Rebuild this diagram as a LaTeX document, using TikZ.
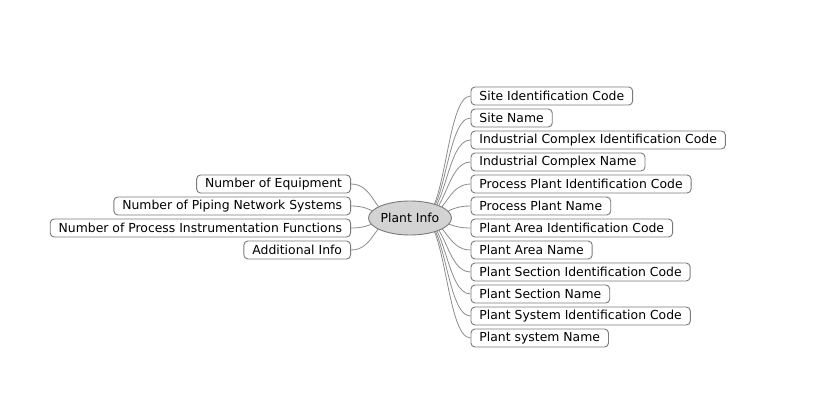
\documentclass[tikz,border=0pt]{standalone}
\usepackage{fontspec}
\setmainfont{DejaVu Sans}
\usetikzlibrary{shapes.geometric,backgrounds}
\definecolor{linegray}{HTML}{8C8C8C}
\definecolor{boxgray}{HTML}{7A7A7A}
\definecolor{rootfill}{HTML}{D3D3D3}
\tikzset{
  leaf/.style={draw=boxgray, line width=0.9pt, rounded corners=4pt, fill=white,
    minimum height=18pt, inner xsep=8.5pt, inner ysep=0pt,
    font=\fontsize{12.4}{14}\selectfont, text=black},
  root/.style={ellipse, draw=boxgray, line width=0.9pt, fill=rootfill,
    minimum width=77pt, minimum height=34pt, inner sep=0pt,
    font=\fontsize{12.4}{14}\selectfont},
  link/.style={draw=linegray, line width=0.8pt}
}
\begin{document}
\begin{tikzpicture}[x=1pt,y=-1pt]
\useasboundingbox (0,0) rectangle (817,420);
\node[root] (pi) at (410,218) {Plant Info};
% right children
\node[leaf, anchor=west] (r1) at (470.5,96) {Site Identification Code};
\node[leaf, anchor=west] (r2) at (470.5,118) {Site Name};
\node[leaf, anchor=west] (r3) at (470.5,140) {Industrial Complex Identification Code};
\node[leaf, anchor=west] (r4) at (470.5,162) {Industrial Complex Name};
\node[leaf, anchor=west] (r5) at (470.5,184) {Process Plant Identification Code};
\node[leaf, anchor=west] (r6) at (470.5,206) {Process Plant Name};
\node[leaf, anchor=west] (r7) at (470.5,228) {Plant Area Identification Code};
\node[leaf, anchor=west] (r8) at (470.5,250) {Plant Area Name};
\node[leaf, anchor=west] (r9) at (470.5,272) {Plant Section Identification Code};
\node[leaf, anchor=west] (r10) at (470.5,294) {Plant Section Name};
\node[leaf, anchor=west] (r11) at (470.5,316) {Plant System Identification Code};
\node[leaf, anchor=west] (r12) at (470.5,338) {Plant system Name};
% left children
\node[leaf, anchor=east] (l1) at (351,184) {Number of Equipment};
\node[leaf, anchor=east] (l2) at (351,206) {Number of Piping Network Systems};
\node[leaf, anchor=east] (l3) at (351,228) {Number of Process Instrumentation Functions};
\node[leaf, anchor=east] (l4) at (351,250) {Additional Info};
\begin{scope}[on background layer]
  \foreach \n in {r1,r2,r3,r4,r5,r6,r7,r8,r9,r10,r11,r12}
    \draw[link] ([xshift=12pt]pi.center) .. controls +(24,0) and +(-24,0) .. (\n.west);
  \foreach \n in {l1,l2,l3,l4}
    \draw[link] ([xshift=-12pt]pi.center) .. controls +(-24,0) and +(24,0) .. (\n.east);
\end{scope}
\end{tikzpicture}
\end{document}
